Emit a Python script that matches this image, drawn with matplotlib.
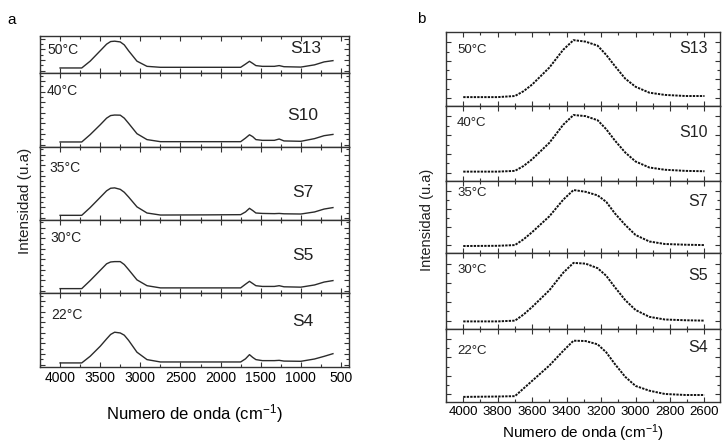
import matplotlib
matplotlib.use("Agg")
import matplotlib.pyplot as plt
from matplotlib.ticker import MultipleLocator, FixedLocator
import numpy as np

plt.rcParams['font.family'] = ['Liberation Sans', 'DejaVu Sans']
plt.rcParams['mathtext.fontset'] = 'custom'
plt.rcParams['mathtext.rm'] = 'Liberation Sans'
plt.rcParams['mathtext.it'] = 'Liberation Sans:italic'

# ---------------- data: panel a (full spectrum) ----------------
wn_a = [4000, 3730, 3625, 3500, 3420, 3370, 3320, 3250, 3200, 3146, 3042, 2917,
        2750, 2200, 1750, 1690, 1640, 1600, 1560, 1480, 1330, 1270, 1210, 1000,
        830, 710, 600]
a_S13 = [0.068, 0.068, 0.16, 0.30, 0.39, 0.425, 0.43, 0.42, 0.38, 0.30, 0.16, 0.09,
         0.077, 0.077, 0.077, 0.12, 0.158, 0.13, 0.10, 0.09, 0.09, 0.10, 0.085, 0.08,
         0.11, 0.15, 0.167]
a_S10 = [0.068, 0.068, 0.167, 0.30, 0.39, 0.425, 0.432, 0.43, 0.39, 0.32, 0.18, 0.10,
         0.072, 0.072, 0.072, 0.12, 0.165, 0.14, 0.10, 0.09, 0.09, 0.108, 0.082, 0.077,
         0.113, 0.153, 0.17]
a_S7 = [0.064, 0.064, 0.17, 0.31, 0.40, 0.435, 0.44, 0.42, 0.38, 0.315, 0.18, 0.096,
        0.068, 0.07, 0.073, 0.11, 0.16, 0.13, 0.096, 0.09, 0.087, 0.09, 0.085, 0.082,
        0.11, 0.15, 0.17]
a_S5 = [0.06, 0.06, 0.17, 0.31, 0.40, 0.425, 0.43, 0.43, 0.39, 0.32, 0.18, 0.10,
        0.07, 0.07, 0.07, 0.12, 0.16, 0.13, 0.10, 0.09, 0.09, 0.10, 0.085, 0.08,
        0.11, 0.15, 0.17]
a_S4 = [0.055, 0.055, 0.145, 0.28, 0.38, 0.44, 0.47, 0.46, 0.43, 0.36, 0.20, 0.10,
        0.068, 0.068, 0.068, 0.11, 0.167, 0.13, 0.10, 0.086, 0.086, 0.09, 0.08, 0.077,
        0.108, 0.144, 0.18]

# ---------------- data: panel b (OH region) ----------------
wn_b = [4000, 3800, 3700, 3650, 3600, 3500, 3420, 3360, 3290, 3220, 3170, 3120,
        3060, 3000, 2920, 2830, 2710, 2600]
b_S13 = [0.12, 0.12, 0.135, 0.20, 0.29, 0.52, 0.76, 0.89, 0.87, 0.815, 0.69, 0.54,
         0.37, 0.26, 0.18, 0.15, 0.135, 0.135]
b_S10 = [0.125, 0.125, 0.135, 0.20, 0.29, 0.51, 0.75, 0.88, 0.865, 0.81, 0.69, 0.54,
         0.38, 0.26, 0.18, 0.15, 0.135, 0.13]
b_S7 = [0.097, 0.10, 0.11, 0.19, 0.29, 0.51, 0.74, 0.875, 0.85, 0.80, 0.71, 0.55,
        0.39, 0.25, 0.16, 0.125, 0.115, 0.11]
b_S5 = [0.10, 0.10, 0.11, 0.19, 0.29, 0.51, 0.74, 0.87, 0.86, 0.80, 0.70, 0.55,
        0.38, 0.25, 0.16, 0.125, 0.115, 0.11]
b_S4 = [0.07, 0.075, 0.08, 0.185, 0.29, 0.50, 0.70, 0.84, 0.835, 0.79, 0.68, 0.52,
        0.345, 0.22, 0.155, 0.11, 0.096, 0.096]

samples = ['S13', 'S10', 'S7', 'S5', 'S4']
temps = ['50°C', '40°C', '35°C', '30°C', '22°C']
series_a = [a_S13, a_S10, a_S7, a_S5, a_S4]
series_b = [b_S13, b_S10, b_S7, b_S5, b_S4]
xticks_a = [4000, 3500, 3000, 2500, 2000, 1500, 1000, 500]
xticks_b = [4000, 3800, 3600, 3400, 3200, 3000, 2800, 2600]

W, H = 722, 443
fig = plt.figure(figsize=(W / 100, H / 100), dpi=100)

def fx(px):
    return px / W

def fy(py):
    return 1 - py / H

spine_col = '#333333'

# panel a geometry (pixel rows)
rows_a = [(36, 73), (73, 147), (147, 220), (220, 293), (293, 367)]
left_a, right_a = 40, 349
temp_pos_a = [(0.023, 0.62), (0.023, 0.76), (0.03, 0.71), (0.035, 0.75), (0.035, 0.70)]
samp_pos_a = [(0.86, 0.65), (0.85, 0.43), (0.85, 0.37), (0.85, 0.52), (0.85, 0.61)]

axes_a = []
for i, (t, b) in enumerate(rows_a):
    ax = fig.add_axes([fx(left_a), fy(b), fx(right_a - left_a), (b - t) / H])
    ax.plot(wn_a, series_a[i], color='#2b2b2b', lw=1.0)
    ax.set_xlim(4250, 400)
    ax.set_ylim(0, 0.5 if i == 0 else 1.0)
    ax.xaxis.set_major_locator(FixedLocator(xticks_a))
    ax.xaxis.set_minor_locator(MultipleLocator(250))
    ax.yaxis.set_major_locator(FixedLocator(np.arange(0.03, 1.0, 0.144)))
    ax.yaxis.set_minor_locator(FixedLocator(np.arange(0.102, 1.0, 0.144)))
    ax.tick_params(which='both', direction='in', top=True, right=True,
                   labelleft=False, color=spine_col, width=0.8)
    ax.tick_params(which='major', length=3.5)
    ax.tick_params(which='minor', length=2.5)
    for s in ax.spines.values():
        s.set_color(spine_col)
        s.set_linewidth(1.0)
    if i < 4:
        ax.tick_params(labelbottom=False)
    else:
        ax.set_xticklabels([str(v) for v in xticks_a], fontsize=10)
        ax.tick_params(axis='x', pad=3)
        ax.set_xlabel('Numero de onda (cm$^{\\mathregular{-1}}$)', fontsize=12, labelpad=12)
    ax.text(temp_pos_a[i][0], temp_pos_a[i][1], temps[i], transform=ax.transAxes,
            fontsize=10, ha='left', va='center', color='#222222')
    ax.text(samp_pos_a[i][0], samp_pos_a[i][1], samples[i], transform=ax.transAxes,
            fontsize=12.5, ha='center', va='center', color='#222222')
    axes_a.append(ax)

# panel b geometry
rows_b = [(32, 106), (106, 181), (181, 253), (253, 329), (329, 402)]
left_b, right_b = 446, 720
temp_pos_b = [(0.04, 0.76), (0.04, 0.77), (0.04, 0.83), (0.04, 0.78), (0.04, 0.70)]
samp_pos_b = [(0.955, 0.78), (0.955, 0.64), (0.955, 0.71), (0.955, 0.71), (0.955, 0.75)]

for i, (t, b) in enumerate(rows_b):
    ax = fig.add_axes([fx(left_b), fy(b), fx(right_b - left_b), (b - t) / H])
    ax.plot(wn_b, series_b[i], color='#111111', lw=1.4, linestyle=(0, (1.2, 0.6)))
    ax.set_xlim(4100, 2510)
    ax.set_ylim(0, 1.0)
    ax.xaxis.set_major_locator(FixedLocator(xticks_b))
    ax.xaxis.set_minor_locator(MultipleLocator(100))
    ax.yaxis.set_major_locator(FixedLocator([0.11, 0.36, 0.61, 0.86]))
    ax.yaxis.set_minor_locator(FixedLocator([0.235, 0.485, 0.735]))
    ax.tick_params(which='both', direction='in', top=True, right=True,
                   labelleft=False, color=spine_col, width=0.8)
    ax.tick_params(which='major', length=3.5)
    ax.tick_params(which='minor', length=2.5)
    for s in ax.spines.values():
        s.set_color(spine_col)
        s.set_linewidth(1.0)
    if i < 4:
        ax.tick_params(labelbottom=False)
    else:
        ax.set_xticklabels([str(v) for v in xticks_b], fontsize=9.5)
        ax.tick_params(axis='x', pad=3)
        ax.set_xlabel('Numero de onda (cm$^{\\mathregular{-1}}$)', fontsize=11, labelpad=3)
    ax.text(temp_pos_b[i][0], temp_pos_b[i][1], temps[i], transform=ax.transAxes,
            fontsize=9.5, ha='left', va='center', color='#222222')
    ax.text(samp_pos_b[i][0], samp_pos_b[i][1], samples[i], transform=ax.transAxes,
            fontsize=11.5, ha='right', va='center', color='#222222')

fig.text(fx(25), fy(201), 'Intensidad (u.a)', rotation=90, fontsize=11,
         ha='center', va='center', color='#222222')
fig.text(fx(427), fy(220), 'Intensidad (u.a)', rotation=90, fontsize=10.5,
         ha='center', va='center', color='#222222')
fig.text(fx(12), fy(20), 'a', fontsize=11, ha='center', va='center')
fig.text(fx(421), fy(19), 'b', fontsize=11, ha='center', va='center')

fig.savefig('out.png', dpi=100)
